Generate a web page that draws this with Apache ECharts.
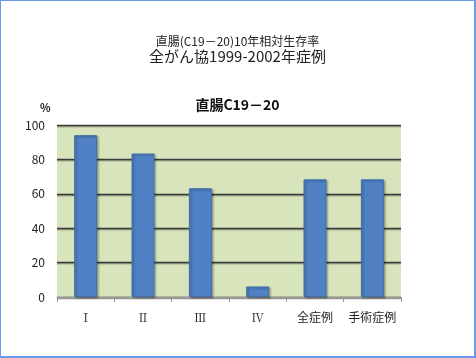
<!DOCTYPE html>
<html><head><meta charset="utf-8">
<script src="https://cdn.jsdelivr.net/npm/echarts@6/dist/echarts.min.js"></script>
<style>
html,body{margin:0;padding:0;background:#fff;}
#c{width:476px;height:358px;box-sizing:border-box;border:1px solid #6a9ae8;border-right-width:2px;border-bottom-width:2px;}
</style></head>
<body><div id="c"></div>
<script>
const categories = ['Ⅰ', 'Ⅱ', 'Ⅲ', 'Ⅳ', '全症例', '手術症例'];
const survival = [94.1, 83.4, 63.2, 6.1, 68.4, 68.4];
const yTicks = [0, 20, 40, 60, 80, 100];

const chart = echarts.init(document.getElementById('c'), null, {renderer: 'canvas'});
const font = '"Noto Sans CJK JP", "Noto Sans", sans-serif';
const serif = '"Noto Serif CJK JP", "DejaVu Serif", "Liberation Serif", serif';
chart.setOption({
  animation: false,
  textStyle: {fontFamily: font},
  title: [
    {text: '直腸(C19－20)10年相対生存率', left: 'center', top: 29,
     textStyle: {fontSize: 12, fontWeight: 'normal', color: '#222', fontFamily: font}},
    {text: '全がん協1999-2002年症例', left: 'center', top: 43,
     textStyle: {fontSize: 15, fontWeight: 'normal', color: '#222', fontFamily: font}},
    {text: '直腸C19－20', left: 'center', top: 92,
     textStyle: {fontSize: 14, fontWeight: 'bold', color: '#111', fontFamily: font}},
    {text: '%', left: 34, top: 96,
     textStyle: {fontSize: 11, fontWeight: 'bold', color: '#222', fontFamily: font}}
  ],
  grid: {left: 56, right: 73, top: 124, bottom: 59, show: true,
         backgroundColor: '#d8e4bc', borderWidth: 0},
  xAxis: {
    type: 'category', data: categories,
    axisLine: {show: true, lineStyle: {color: '#999', width: 1}},
    axisTick: {show: true, length: 5, interval: 0, lineStyle: {color: '#999'}},
    axisLabel: {fontSize: 12, color: '#222', margin: 14, interval: 0, fontFamily: font,
      formatter: v => /^[ⅠⅡⅢⅣ]$/.test(v) ? '{r|' + v + '}' : '{s|' + v + '}',
      rich: {
        r: {fontFamily: serif, fontSize: 12, color: '#222'},
        s: {fontFamily: font, fontSize: 12, color: '#222'}
      }}
  },
  yAxis: {
    type: 'value', min: yTicks[0], max: yTicks[yTicks.length - 1], interval: 20,
    axisLine: {show: false}, axisTick: {show: false},
    axisLabel: {fontSize: 12, color: '#222', margin: 12, fontFamily: font},
    splitLine: {show: true, lineStyle: {color: '#3c3c3c', width: 1.3,
      shadowColor: 'rgba(0,0,0,0.35)', shadowOffsetY: 1, shadowBlur: 1}}
  },
  series: [{
    type: 'bar', data: survival, barWidth: '40%',
    itemStyle: {color: '#4f81c4', borderColor: '#3f6ea8', borderWidth: 1,
      shadowColor: 'rgba(0,0,0,0.3)', shadowOffsetX: 1.5, shadowOffsetY: 1, shadowBlur: 2},
    z: 3
  }]
});
</script></body></html>
